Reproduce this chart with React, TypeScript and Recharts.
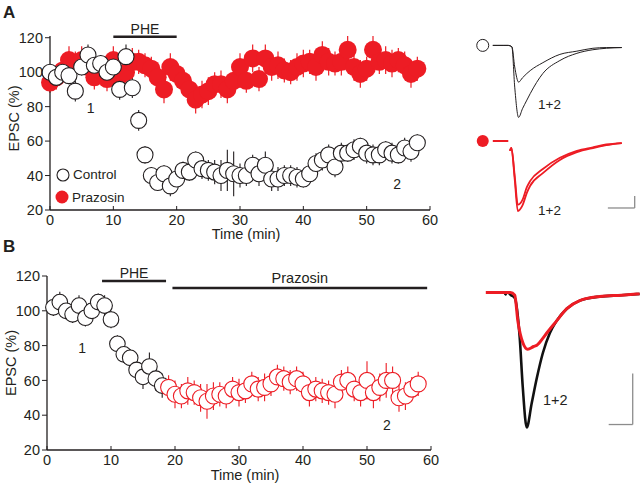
import React from 'react';
import {
  ScatterChart, Scatter, XAxis, YAxis, ErrorBar, ReferenceLine, ReferenceDot,
  LineChart, Line,
} from 'recharts';

const FONT = '"Liberation Sans", Arial, Helvetica, sans-serif';
const RED = '#ed1c24';
const INK = '#231f20';
const BAR = '#8c8c8c';

// ---- panel A: EPSC (% baseline) per minute
const minutesA = [
  0, 1, 2, 3, 4, 5, 6, 7, 8, 9, 10, 11, 12, 13, 14, 15, 16, 17, 18, 19,
  20, 21, 22, 23, 24, 25, 26, 27, 28, 29, 30, 31, 32, 33, 34, 35, 36, 37, 38, 39,
  40, 41, 42, 43, 44, 45, 46, 47, 48, 49, 50, 51, 52, 53, 54, 55, 56, 57, 58,
];
const controlA = [
  100, 97, 100, 98, 89, 103, 110, 104, 105, 100,
  103, 90, 109, 91, 72, 52, 40, 36, 41, 34,
  38, 43, 42, 49, 44, 43, 42, 40, 43, 41,
  40, 40, 46, 41, 46, 38, 38, 40, 40, 39,
  38, 41, 47, 49, 52, 45, 53, 53, 55, 57,
  53, 52, 52, 55, 53, 52, 56, 54, 59,
];
const controlErrA = [
  4, 5, 5, 5, 6, 5, 6, 5, 5, 5,
  5, 6, 7, 6, 6, 5, 5, 5, 5, 6,
  5, 5, 5, 5, 6, 6, 7, 9, 12, 13,
  7, 6, 6, 7, 8, 7, 7, 6, 6, 6,
  5, 5, 6, 6, 6, 6, 6, 5, 6, 5,
  6, 6, 6, 5, 6, 5, 6, 6, 5,
];
const prazosinA = [
  94, 97, 101, 107, 105, 107, 103, 97, 101, 96,
  107, 98, 100, 106, 106, 104, 102, 97, 90, 103,
  99, 95, 90, 84, 87, 89, 93, 93, 90, 95,
  103, 95, 108, 96, 108, 103, 104, 101, 100, 103,
  105, 106, 103, 110, 106, 105, 106, 113, 103, 99,
  102, 113, 106, 107, 105, 107, 104, 99, 102,
];
const prazosinErrA = [
  6, 7, 7, 8, 7, 8, 7, 7, 7, 7,
  8, 7, 7, 8, 7, 7, 7, 8, 8, 8,
  7, 7, 8, 8, 8, 8, 7, 8, 8, 7,
  8, 7, 8, 7, 8, 8, 8, 7, 7, 8,
  8, 7, 8, 8, 8, 7, 8, 8, 8, 8,
  7, 8, 7, 8, 8, 7, 8, 8, 7,
];

// ---- panel B: PHE alone, then PHE + prazosin
const minutesPheB = [1, 2, 3, 4, 5, 6, 7, 8, 9, 10, 11, 12, 13, 14, 15, 16, 17, 18];
const pheB = [102, 105, 100, 98, 103, 96, 100, 105, 103, 95, 81, 75, 73, 66, 62, 68, 61, 57];
const pheErrB = [5, 6, 5, 5, 6, 5, 6, 5, 6, 5, 5, 5, 5, 6, 7, 8, 7, 7];
const minutesPrazB = [
  19, 20, 21, 22, 23, 24, 25, 26, 27, 28, 29, 30, 31, 32, 33, 34, 35, 36, 37, 38,
  39, 40, 41, 42, 43, 44, 45, 46, 47, 48, 49, 50, 51, 52, 53, 54, 55, 56, 57, 58,
];
const prazB = [
  56, 52, 51, 54, 53, 50, 48, 51, 52, 51,
  55, 53, 54, 58, 55, 56, 58, 62, 61, 59,
  61, 58, 53, 55, 54, 53, 52, 59, 60, 55,
  53, 60, 53, 56, 60, 60, 50, 51, 55, 58,
];
const prazErrB = [
  7, 8, 7, 8, 7, 8, 10, 8, 7, 7,
  7, 8, 7, 7, 7, 8, 7, 7, 7, 7,
  7, 7, 8, 7, 7, 7, 8, 7, 8, 7,
  8, 11, 9, 8, 10, 8, 8, 8, 7, 7,
];

const minuteTicks = [0, 10, 20, 30, 40, 50, 60];
const epscTicks = [20, 40, 60, 80, 100, 120];

// ---- sample traces (ms, % of control peak)
const traceTimesA = [0, 2, 4, 6, 7.4, 8.5, 10, 11.5, 13.2, 14.5, 19.4, 26, 32.6, 38.8, 44, 50];
const controlTrace1 = [0, 0, 0, 0, -2, -58, -100, -88, -76, -67, -39, -21, -11, -6, -4, -3];
const controlTrace2 = [0, 0, 0, 0, -2, -30, -51, -45, -39, -35, -24, -12.5, -8, -4, -3, -3];
const prazBaseTimesA = [0, 2, 4, 6];
const prazBaseA = [0, 0, 0, 0];
const prazTraceTimesA = [6.6, 7.2, 8.5, 9.7, 11.5, 13.2, 14.5, 19.4, 26, 32.6, 38.8, 44, 50];
const prazTrace1 = [-14, -10, -55, -100, -92, -74, -64, -46, -27, -16, -10, -6, -3];
const prazTrace2 = [-14, -10, -50, -91, -84, -66, -57, -40, -24, -14, -9, -5, -3];

const blackTimesB = [6.2, 7.1, 8.2, 9.4, 11, 12, 13.3, 14.9, 16.6, 18.5, 20.8, 23, 26.3, 30.5, 37, 44, 50];
const blackTraceB = [-2, 0, -2, -4, -33, -70, -100, -82, -63, -45, -30, -21, -12, -6, -3, -2, -1];
const redTimesB = [0, 6, 8, 9.4, 10.4, 12, 13.6, 15.5, 16.6, 18.5, 19.8, 23, 26.3, 30.5, 37, 44, 50];
const redTraceB = [0, 0, 0, -2, -21, -37, -42, -40, -39, -34, -30, -21, -12, -6, -3, -2, -1];

const zip = (xs: number[], ys: number[], es?: number[]) =>
  xs.map((t, i) => ({ t, v: ys[i], err: es ? es[i] : 0 }));

const openDot = (color: string, r: number) => (p: any) => (
  <circle cx={p.cx} cy={p.cy} r={r} fill="#fff" stroke={color} strokeWidth={1.1} />
);
const fullDot = (color: string, r: number) => (p: any) => (
  <circle cx={p.cx} cy={p.cy} r={r} fill={color} stroke="none" />
);

const tickStyle = { fontSize: 14.5, fill: INK };
const axisLine = { stroke: INK, strokeWidth: 1.3 };

// x ticks point into the plot, labels sit just under the axis
const TimeAxis = (height: number, offset: number) => (
  <XAxis
    type="number"
    dataKey="t"
    domain={[0, 60]}
    ticks={minuteTicks}
    interval={0}
    height={height}
    tick={tickStyle}
    tickSize={-4}
    tickMargin={9}
    axisLine={axisLine}
    tickLine={{ stroke: INK }}
    label={{ value: 'Time (min)', position: 'insideBottom', offset, dx: 6, fontSize: 14.5, fill: INK }}
  />
);

const epscLabel = (shift: number) => (p: any) => {
  const vb = p.viewBox;
  const cx = vb.x + 3.5;
  const cy = vb.y + vb.height / 2 + shift;
  return (
    <text x={cx} y={cy} transform={`rotate(-90 ${cx} ${cy})`} textAnchor="middle" dominantBaseline="central" fontSize={14.5} fill={INK}>
      EPSC (%)
    </text>
  );
};

const EpscAxis = (shift: number) => (
  <YAxis
    type="number"
    dataKey="v"
    domain={[20, 120]}
    ticks={epscTicks}
    interval={0}
    width={40}
    tick={tickStyle}
    tickSize={5}
    tickMargin={2}
    axisLine={axisLine}
    tickLine={{ stroke: INK }}
    label={{ content: epscLabel(shift) }}
  />
);

const annot = (x: number, y: number, text: string) => (
  <ReferenceDot
    x={x}
    y={y}
    r={0}
    fill="none"
    stroke="none"
    label={{ value: text, position: 'center', fontSize: 14, fill: INK }}
  />
);

function PanelA() {
  return (
    <ScatterChart width={450} height={243} margin={{ top: 36, right: 20, bottom: 0, left: 10 }}>
      {TimeAxis(33, 4)}
      {EpscAxis(-4.5)}
      <ReferenceLine
        segment={[{ x: 10, y: 120.6 }, { x: 20, y: 120.6 }]}
        stroke={INK}
        strokeWidth={2.6}
        ifOverflow="visible"
        label={{ value: 'PHE', position: 'top', offset: 3, fontSize: 14, fill: INK }}
      />
      <Scatter data={zip(minutesA, prazosinA, prazosinErrA)} shape={fullDot(RED, 9)} isAnimationActive={false}>
        <ErrorBar dataKey="err" direction="y" width={0} stroke={RED} strokeWidth={1.2} isAnimationActive={false} />
      </Scatter>
      <Scatter data={zip(minutesA, controlA, controlErrA)} shape={openDot(INK, 8)} isAnimationActive={false}>
        <ErrorBar dataKey="err" direction="y" width={0} stroke={INK} strokeWidth={1.1} isAnimationActive={false} />
      </Scatter>
      {annot(6.4, 79.4, '1')}
      {annot(54.8, 35.3, '2')}
    </ScatterChart>
  );
}

function PanelB() {
  return (
    <ScatterChart width={450} height={244} margin={{ top: 36, right: 19, bottom: 0, left: 7 }}>
      {TimeAxis(34, 4)}
      {EpscAxis(0)}
      <ReferenceLine
        segment={[{ x: 8.6, y: 117.1 }, { x: 18.6, y: 117.1 }]}
        stroke={INK}
        strokeWidth={2.6}
        ifOverflow="visible"
        label={{ value: 'PHE', position: 'top', offset: 3, fontSize: 14, fill: INK }}
      />
      <ReferenceLine
        segment={[{ x: 19.6, y: 113.1 }, { x: 59.4, y: 113.1 }]}
        stroke={INK}
        strokeWidth={2.6}
        ifOverflow="visible"
        label={{ value: 'Prazosin', position: 'top', offset: 5, fontSize: 14.5, fill: INK }}
      />
      <Scatter data={zip(minutesPheB, pheB, pheErrB)} shape={openDot(INK, 7.8)} isAnimationActive={false}>
        <ErrorBar dataKey="err" direction="y" width={0} stroke={INK} strokeWidth={1.1} isAnimationActive={false} />
      </Scatter>
      <Scatter data={zip(minutesPrazB, prazB, prazErrB)} shape={openDot(RED, 8)} isAnimationActive={false}>
        <ErrorBar dataKey="err" direction="y" width={0} stroke={RED} strokeWidth={1.1} isAnimationActive={false} />
      </Scatter>
      {annot(5.5, 78.6, '1')}
      {annot(53.1, 34.4, '2')}
    </ScatterChart>
  );
}

type TraceProps = {
  left: number; top: number; width: number; height: number;
  xDomain: [number, number]; yDomain: [number, number];
  children: React.ReactNode;
};

function TraceBox({ left, top, width, height, xDomain, yDomain, children }: TraceProps) {
  return (
    <div style={{ position: 'absolute', left, top }}>
      <LineChart width={width} height={height} margin={{ top: 0, right: 0, bottom: 0, left: 0 }}>
        <XAxis hide type="number" dataKey="t" domain={xDomain} allowDataOverflow />
        <YAxis hide type="number" domain={yDomain} allowDataOverflow />
        {children}
      </LineChart>
    </div>
  );
}

const trace = (data: { t: number; v: number }[], color: string, w: number) => (
  <Line
    data={data}
    dataKey="v"
    type="monotone"
    stroke={color}
    strokeWidth={w}
    dot={false}
    isAnimationActive={false}
  />
);

const textAt = (left: number, top: number, text: string, size: number, bold = false) => (
  <div style={{ position: 'absolute', left, top, fontSize: size, fontWeight: bold ? 700 : 400, color: INK, lineHeight: 1 }}>
    {text}
  </div>
);

export default function App() {
  return (
    <div
      style={{
        position: 'absolute', left: 0, top: 0, width: 640, height: 484,
        background: '#fff', overflow: 'hidden', fontFamily: FONT,
      }}
    >
      <div style={{ position: 'absolute', left: 0, top: 0 }}>
        <PanelA />
      </div>
      <div style={{ position: 'absolute', left: 0, top: 240 }}>
        <PanelB />
      </div>

      {/* legend of panel A */}
      <svg style={{ position: 'absolute', left: 54, top: 166 }} width={18} height={40}>
        <circle cx={9} cy={9} r={6} fill="#fff" stroke={INK} strokeWidth={1.1} />
        <circle cx={8} cy={31} r={6.5} fill={RED} />
      </svg>
      {textAt(73, 168, 'Control', 13.5)}
      {textAt(72, 191, 'Prazosin', 13.5)}

      {/* traces, panel A */}
      <TraceBox left={467.2} top={30.6} width={180.6} height={100.8} xDomain={[-10, 60]} yDomain={[-120, 20]}>
        {trace(zip(traceTimesA, controlTrace1), INK, 1)}
        {trace(zip(traceTimesA, controlTrace2), INK, 1)}
        <ReferenceDot x={-3.9} y={0} r={6} fill="#fff" stroke={INK} strokeWidth={1} />
      </TraceBox>
      <TraceBox left={467.2} top={127} width={180.6} height={98} xDomain={[-10, 60]} yDomain={[-120, 20]}>
        {trace(zip(prazBaseTimesA, prazBaseA), RED, 2.2)}
        {trace(zip(prazTraceTimesA, prazTrace1), RED, 1.8)}
        {trace(zip(prazTraceTimesA, prazTrace2), RED, 1.8)}
        <ReferenceDot x={-3.9} y={0} r={6} fill={RED} stroke="none" />
        <ReferenceLine segment={[{ x: 44.6, y: -95.7 }, { x: 55, y: -95.7 }]} stroke={BAR} strokeWidth={1.3} />
        <ReferenceLine segment={[{ x: 55, y: -95.7 }, { x: 55, y: -78.6 }]} stroke={BAR} strokeWidth={1.3} />
      </TraceBox>
      {textAt(538, 98, '1+2', 13.5)}
      {textAt(538, 204, '1+2', 13.5)}

      {/* traces, panel B */}
      <TraceBox left={455.2} top={278.5} width={184.8} height={162} xDomain={[-10, 50]} yDomain={[-110, 10]}>
        {trace(zip(blackTimesB, blackTraceB), '#111', 2.6)}
        {trace(zip(redTimesB, redTraceB), RED, 3)}
        <ReferenceLine segment={[{ x: 39.9, y: -97.8 }, { x: 47.7, y: -97.8 }]} stroke={BAR} strokeWidth={1.3} />
        <ReferenceLine segment={[{ x: 47.7, y: -97.8 }, { x: 47.7, y: -60 }]} stroke={BAR} strokeWidth={1.3} />
      </TraceBox>
      {textAt(543, 393, '1+2', 14.5)}

      {textAt(3, 4, 'A', 17, true)}
      {textAt(3, 238, 'B', 17, true)}
    </div>
  );
}
